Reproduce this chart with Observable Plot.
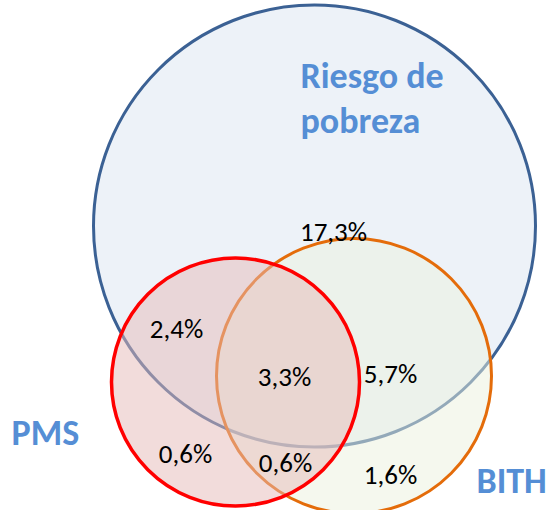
<!DOCTYPE html>
<html><head><meta charset="utf-8">
<script src="https://cdn.jsdelivr.net/npm/d3@7"></script>
<script src="https://cdn.jsdelivr.net/npm/@observablehq/plot@0.6"></script>
<style>html,body{margin:0;padding:0;background:#fff}svg{display:block}</style>
</head><body><div id="chart"></div>
<script>
// ---- data ----
const sets = ["Riesgo de pobreza", "BITH", "PMS"];
const setLabels = ["Riesgo de\npobreza", "BITH", "PMS"];
const regions = ["Solo riesgo", "Riesgo+PMS", "Riesgo+PMS+BITH", "Riesgo+BITH", "Solo PMS", "PMS+BITH", "Solo BITH"];
const values = [17.3, 2.4, 3.3, 5.7, 0.6, 0.6, 1.6];

// ---- layout (pixel space) ----
const setLayout = {
  "Riesgo de pobreza": {cx: 314, cy: 225.5, rx: 221, ry: 211.5, fill: "#dce6f2", fo: 0.5, stroke: "#3b6194", sw: 3},
  "BITH": {cx: 353.5, cy: 375.5, rx: 137.5, ry: 131.5, fill: "#ebf1de", fo: 0.5, stroke: "#e46c0a", sw: 3},
  "PMS": {cx: 235, cy: 381.5, rx: 124, ry: 119.5, fill: "#e6b9b8", fo: 0.5, stroke: "#ff0000", sw: 3.5}
};
const setLabelLayout = {
  "Riesgo de pobreza": {x: 300, y: 132},
  "BITH": {x: 476, y: 492},
  "PMS": {x: 11, y: 444}
};
const regionLayout = {
  "Solo riesgo": {x: 333, y: 240},
  "Riesgo+PMS": {x: 176, y: 337},
  "Riesgo+PMS+BITH": {x: 284, y: 385},
  "Riesgo+BITH": {x: 390, y: 382},
  "Solo PMS": {x: 185, y: 462},
  "PMS+BITH": {x: 285, y: 471},
  "Solo BITH": {x: 390, y: 483}
};

const fmt = v => v.toFixed(1).replace(".", ",") + "%";
const regionData = regions.map((r, i) => ({region: r, value: values[i]}));
const labelData = sets.map((s, i) => ({set: s, label: setLabels[i]}));

const circleMarks = sets.map(name => {
  const L = setLayout[name];
  return Plot.dot([name], {
    x: d => setLayout[d].cx, y: d => setLayout[d].cy, r: L.rx,
    fill: L.fill, fillOpacity: L.fo, stroke: L.stroke, strokeWidth: L.sw,
    ariaLabel: name
  });
});

const svg = Plot.plot({
  width: 546, height: 510, margin: 0,
  x: {domain: [0, 546], range: [0, 546], axis: null},
  y: {domain: [0, 510], range: [0, 510], axis: null},
  style: {background: "white", overflow: "visible"},
  marks: [
    ...circleMarks,
    Plot.text(regionData, {
      x: d => regionLayout[d.region].x, y: d => regionLayout[d.region].y,
      text: d => fmt(d.value), textAnchor: "middle", lineAnchor: "bottom",
      fontSize: 27, fontFamily: "Calibri, Carlito, 'Open Sans', sans-serif", fill: "#000"
    }),
    Plot.text(labelData, {
      x: d => setLabelLayout[d.set].x, y: d => setLabelLayout[d.set].y,
      text: "label", textAnchor: "start", lineAnchor: "bottom", lineHeight: 1.25,
      fontSize: 36, fontWeight: "bold", fontFamily: "Calibri, Carlito, 'Open Sans', sans-serif", fill: "#558ed5"
    })
  ]
});

// squash circles vertically into ellipses (source image is slightly non-uniform)
const xs = svg.scale("x"), ys = svg.scale("y");
for (const name of sets) {
  const L = setLayout[name];
  const g = svg.querySelector(`g[aria-label="${name}"]`);
  if (!g) continue;
  const px = xs.apply(L.cx), py = ys.apply(L.cy), k = L.ry / L.rx;
  const prev = g.getAttribute("transform");
  g.setAttribute("transform", (prev ? prev + " " : "") + `translate(${px},${py}) scale(1,${k}) translate(${-px},${-py})`);
  g.querySelectorAll("circle,path").forEach(c => c.setAttribute("vector-effect", "non-scaling-stroke"));
}
document.getElementById("chart").appendChild(svg);
</script>
</body></html>
